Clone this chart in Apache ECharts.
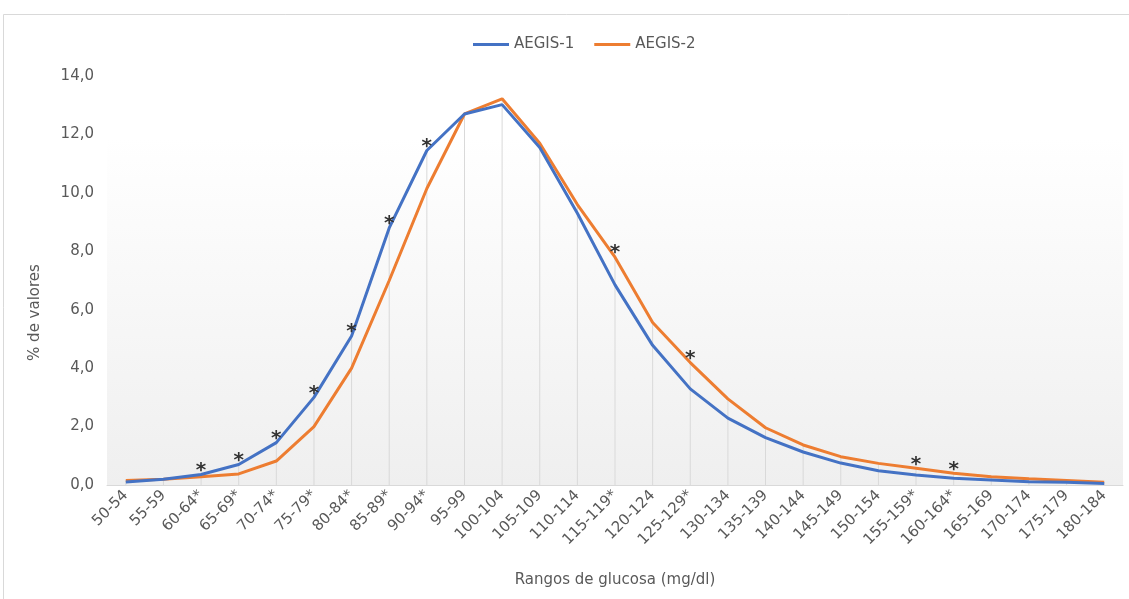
<!DOCTYPE html>
<html>
<head>
<meta charset="utf-8">
<script src="https://cdn.jsdelivr.net/npm/echarts@6/dist/echarts.min.js"></script>
<style>
  html, body { margin: 0; padding: 0; background: #ffffff; }
  #chart { width: 1129px; height: 599px; }
</style>
</head>
<body>
<div id="chart"></div>
<script>
// Glucose ranges (mg/dl); an asterisk marks a significant difference
const categories = [
  '50-54', '55-59', '60-64*', '65-69*', '70-74*', '75-79*', '80-84*', '85-89*', '90-94*',
  '95-99', '100-104', '105-109', '110-114', '115-119*', '120-124', '125-129*', '130-134',
  '135-139', '140-144', '145-149', '150-154', '155-159*', '160-164*', '165-169', '170-174',
  '175-179', '180-184'
];

// % of values per range
const aegis1 = [
  0.10, 0.20, 0.36, 0.70, 1.45, 3.00, 5.10, 8.80, 11.45,
  12.70, 13.02, 11.55, 9.30, 6.85, 4.78, 3.29, 2.29,
  1.62, 1.13, 0.75, 0.49, 0.34, 0.23, 0.17, 0.11,
  0.09, 0.05
];
const aegis2 = [
  0.15, 0.20, 0.28, 0.38, 0.82, 2.00, 4.00, 7.00, 10.15,
  12.70, 13.22, 11.70, 9.60, 7.80, 5.56, 4.19, 2.95,
  1.96, 1.37, 0.97, 0.74, 0.57, 0.40, 0.28, 0.21,
  0.15, 0.09
];

const yTicks = [0, 2, 4, 6, 8, 10, 12, 14];

const seriesNames = ['AEGIS-1', 'AEGIS-2'];
const seriesData = [aegis1, aegis2];
const seriesColors = ['#4472C4', '#ED7D31'];

const textColor = '#595959';
const fontFamily = '"DejaVu Sans", Verdana, sans-serif';
const fontSize = 15;

// drop lines run from the higher curve down to the axis
const dropHeights = aegis1.map(function (v, i) { return Math.max(v, aegis2[i]); });

// put the significance asterisk above whichever curve is higher at that range
function starFormatter(seriesIdx) {
  return function (p) {
    const i = p.dataIndex;
    if (!categories[i].endsWith('*')) return '';
    const mine = seriesData[seriesIdx][i];
    const other = seriesData[1 - seriesIdx][i];
    return mine >= other ? '*' : '';
  };
}

const chart = echarts.init(document.getElementById('chart'));

const lineSeries = seriesNames.map(function (name, k) {
  return {
    name: name,
    type: 'line',
    data: seriesData[k],
    color: seriesColors[k],
    showSymbol: true,
    symbol: 'circle',
    symbolSize: 0,
    smooth: false,
    lineStyle: { width: 3, color: seriesColors[k] },
    itemStyle: { color: seriesColors[k] },
    label: {
      show: true,
      position: 'top',
      distance: -6,
      color: '#333333',
      fontSize: 20,
      fontWeight: 'bold',
      fontFamily: fontFamily,
      formatter: starFormatter(k)
    },
    labelLayout: { hideOverlap: false },
    z: k === 0 ? 4 : 3
  };
});

chart.setOption({
  backgroundColor: '#ffffff',
  animation: false,
  textStyle: { fontFamily: fontFamily, color: textColor },
  graphic: [{
    type: 'rect',
    shape: { x: 3.5, y: 14.5, width: 1140, height: 600 },
    style: { fill: 'none', stroke: '#d9d9d9', lineWidth: 1 },
    silent: true,
    z: -10
  }],
  legend: {
    top: 32,
    left: 468,
    itemWidth: 36,
    itemHeight: 3,
    itemGap: 20,
    icon: 'rect',
    textStyle: { color: textColor, fontSize: fontSize, fontFamily: fontFamily },
    data: seriesNames
  },
  grid: {
    left: 107,
    right: 6,
    top: 76,
    bottom: 114,
    show: true,
    borderWidth: 0,
    backgroundColor: new echarts.graphic.LinearGradient(0, 0, 0, 1, [
      { offset: 0, color: '#ffffff' },
      { offset: 0.15, color: '#ffffff' },
      { offset: 1, color: '#efefef' }
    ])
  },
  xAxis: {
    type: 'category',
    data: categories,
    boundaryGap: true,
    name: 'Rangos de glucosa (mg/dl)',
    nameLocation: 'middle',
    nameGap: 88,
    nameTextStyle: { color: textColor, fontSize: fontSize, fontFamily: fontFamily },
    axisLine: { show: true, lineStyle: { color: '#d9d9d9', width: 1 } },
    axisTick: { show: false },
    axisLabel: {
      rotate: 45,
      interval: 0,
      color: textColor,
      fontSize: fontSize,
      margin: 8,
      fontFamily: fontFamily
    },
    splitLine: { show: false }
  },
  yAxis: {
    type: 'value',
    min: yTicks[0],
    max: yTicks[yTicks.length - 1],
    interval: yTicks[1] - yTicks[0],
    name: '% de valores',
    nameLocation: 'middle',
    nameGap: 64,
    nameTextStyle: { color: textColor, fontSize: fontSize, fontFamily: fontFamily, padding: [0, 64, 0, 0] },
    axisLine: { show: false },
    axisTick: { show: false },
    splitLine: { show: false },
    axisLabel: {
      color: textColor,
      fontSize: fontSize,
      margin: 13,
      fontFamily: fontFamily,
      formatter: function (v) { return v.toFixed(1).replace('.', ','); }
    }
  },
  series: [{
    name: 'drop',
    type: 'bar',
    data: dropHeights,
    barWidth: 1,
    silent: true,
    itemStyle: { color: '#d9d9d9' },
    z: 1
  }].concat(lineSeries)
});
</script>
</body>
</html>
